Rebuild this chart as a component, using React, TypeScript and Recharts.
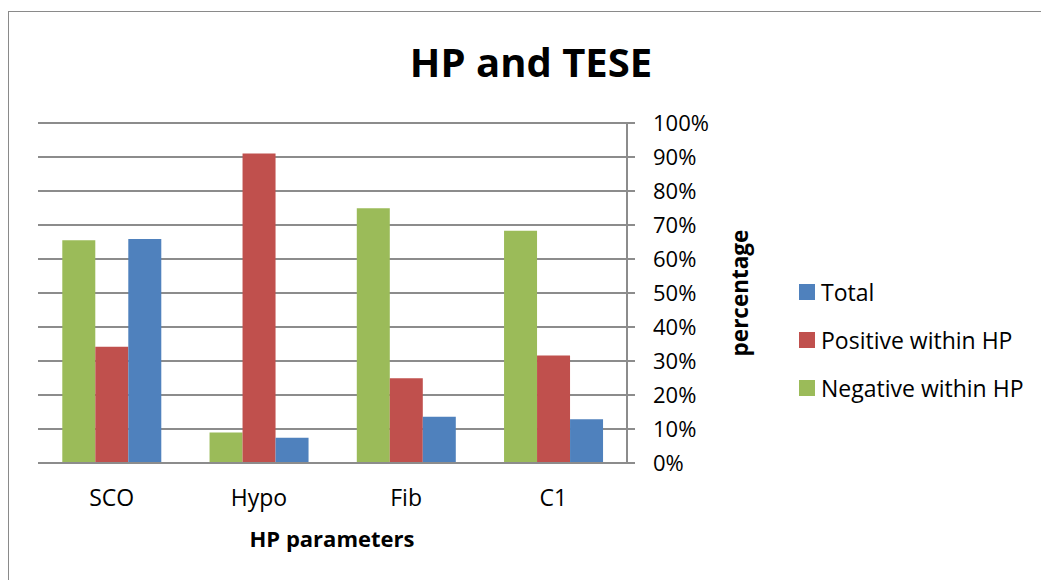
import React from 'react';
import { BarChart, Bar, XAxis, YAxis, CartesianGrid } from 'recharts';

const categories = ['SCO', 'Hypo', 'Fib', 'C1'];
const negativeWithinHP = [65.5, 9.0, 74.9, 68.3];
const positiveWithinHP = [34.2, 91.0, 24.9, 31.6];
const totalValues = [65.9, 7.4, 13.6, 12.9];
const yTicks = [0, 10, 20, 30, 40, 50, 60, 70, 80, 90, 100];

const seriesDefs = [
  { key: 'negative', name: 'Negative within HP', color: '#9BBB59', values: negativeWithinHP },
  { key: 'positive', name: 'Positive within HP', color: '#C0504D', values: positiveWithinHP },
  { key: 'total', name: 'Total', color: '#4F81BD', values: totalValues },
];

const data = categories.map((c, i) => {
  const row: Record<string, string | number> = { name: c };
  seriesDefs.forEach((s) => {
    row[s.key] = s.values[i];
  });
  return row;
});

const FONT = '"Open Sans", "Liberation Sans", sans-serif';
const GRID = '#8c8c8c';

export default function App() {
  const legendItems = [...seriesDefs].reverse();
  return (
    <div style={{ position: 'absolute', left: 0, top: 0, width: 1041, height: 580, background: '#fff', fontFamily: FONT, overflow: 'hidden' }}>
      <div style={{ position: 'absolute', left: 8, top: 11, width: 1100, height: 700, borderLeft: '1px solid #8a8a8a', borderTop: '1px solid #8a8a8a' }} />
      <div style={{ position: 'absolute', left: 0, width: 1062, top: 35, textAlign: 'center', fontSize: 40, fontWeight: 700, color: '#000', lineHeight: '54px' }}>
        HP and TESE
      </div>
      <div style={{ position: 'absolute', left: 0, top: 0 }}>
        <BarChart
          width={1041}
          height={580}
          data={data}
          margin={{ top: 123, left: 38, right: 354, bottom: 87 }}
          barCategoryGap="16.5%"
          barGap={0}
        >
          <CartesianGrid vertical={false} stroke={GRID} strokeWidth={2} />
          <XAxis
            dataKey="name"
            height={30}
            axisLine={{ stroke: GRID, strokeWidth: 2 }}
            tickLine={false}
            tickSize={0}
            tickMargin={27}
            tick={{ fill: '#000', fontSize: 23, fontFamily: FONT }}
            interval={0}
          />
          <YAxis
            orientation="right"
            width={60}
            domain={[0, 100]}
            ticks={yTicks}
            interval={0}
            tickFormatter={(v: number) => `${v}%`}
            axisLine={{ stroke: GRID, strokeWidth: 2 }}
            tickLine={{ stroke: GRID, strokeWidth: 2 }}
            tickSize={8}
            tickMargin={18}
            tick={{ fill: '#000', fontSize: 22, fontFamily: FONT, textAnchor: 'start' }}
          />
          {seriesDefs.map((s) => (
            <Bar key={s.key} dataKey={s.key} name={s.name} fill={s.color} isAnimationActive={false} />
          ))}
        </BarChart>
      </div>
      <div style={{ position: 'absolute', left: 332 - 150, width: 300, top: 523, textAlign: 'center', fontSize: 22, fontWeight: 700, color: '#000', lineHeight: '30px' }}>
        HP parameters
      </div>
      <div style={{ position: 'absolute', left: 740 - 100, top: 293 - 15, width: 200, height: 30, textAlign: 'center', fontSize: 22.5, fontWeight: 700, color: '#000', lineHeight: '30px', transform: 'rotate(-90deg)' }}>
        percentage
      </div>
      {legendItems.map((s, i) => (
        <div key={s.key} style={{ position: 'absolute', left: 799, top: 292 + i * 48 - 15, height: 30, display: 'flex', alignItems: 'center', fontSize: 23, color: '#000', whiteSpace: 'nowrap' }}>
          <span style={{ display: 'inline-block', width: 16, height: 16, background: s.color, marginRight: 6 }} />
          <span>{s.name}</span>
        </div>
      ))}
    </div>
  );
}
